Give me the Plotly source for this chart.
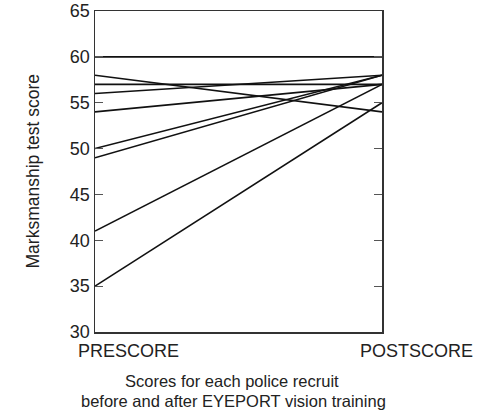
import plotly.graph_objects as go

categories = ["PRESCORE", "POSTSCORE"]
prescore = [60, 58, 57, 56, 54, 50, 49, 41, 35]
postscore = [60, 54, 57, 58, 57, 58, 58, 57, 55]
y_ticks = [30, 35, 40, 45, 50, 55, 60, 65]

FONT = "Liberation Sans, Arial, sans-serif"
TXT = "#222222"

fig = go.Figure()
for a, b in zip(prescore, postscore):
    fig.add_trace(go.Scatter(
        x=categories, y=[a, b], mode="lines",
        line=dict(color="#111111", width=1.6),
        showlegend=False, hoverinfo="skip",
    ))

fig.update_layout(
    width=485, height=411,
    margin=dict(l=95, r=103, t=11, b=79),
    paper_bgcolor="white", plot_bgcolor="white",
    font=dict(family=FONT, color=TXT),
    xaxis=dict(
        type="category", range=[0, 1], automargin=False,
        showline=True, linecolor="#333333", linewidth=1.5, mirror=True,
        showticklabels=False, ticks="", showgrid=False, zeroline=False,
    ),
    yaxis=dict(
        range=[30, 65], tickvals=y_ticks, automargin=False,
        showline=True, linecolor="#333333", linewidth=1.5, mirror="ticks",
        ticks="inside", ticklen=8, tickcolor="#555555", tickwidth=1,
        showgrid=False, zeroline=False,
        tickfont=dict(size=18, family=FONT, color=TXT),
    ),
    annotations=[
        dict(x=0, y=0.5, xref="paper", yref="paper", text="Marksmanship test score",
             textangle=-90, showarrow=False, xanchor="center", yanchor="middle",
             xshift=-63, font=dict(size=17.5, family=FONT, color=TXT)),
        dict(x="PRESCORE", y=0, xref="x", yref="paper", text="PRESCORE",
             showarrow=False, xanchor="left", yanchor="middle", xshift=-19, yshift=-19,
             font=dict(size=18, family=FONT, color=TXT)),
        dict(x="POSTSCORE", y=0, xref="x", yref="paper", text="POSTSCORE",
             showarrow=False, xanchor="left", yanchor="middle", xshift=-24, yshift=-19,
             font=dict(size=18, family=FONT, color=TXT)),
        dict(x=0.5, y=0, xref="paper", yref="paper",
             text="Scores for each police recruit",
             showarrow=False, xanchor="center", yanchor="middle", yshift=-49, xshift=-7,
             font=dict(size=16.5, family=FONT, color=TXT)),
        dict(x=0.5, y=0, xref="paper", yref="paper",
             text="before and after EYEPORT vision training",
             showarrow=False, xanchor="center", yanchor="middle", yshift=-69, xshift=-5,
             font=dict(size=16.5, family=FONT, color=TXT)),
    ],
)

fig.write_html(
    "out.html",
    config={"displayModeBar": False, "staticPlot": True},
    post_script="document.body.style.margin='0';document.body.style.overflow='hidden';",
)
